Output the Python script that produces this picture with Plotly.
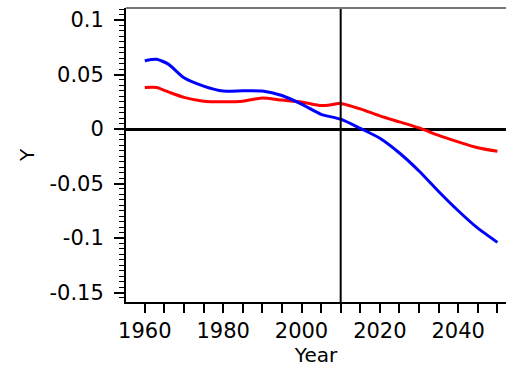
import plotly.graph_objects as go

years_blue = [1960, 1963, 1966, 1970, 1975, 1980, 1985, 1990, 1995, 2000,
              2005, 2010, 2015, 2020, 2025, 2030, 2035, 2040, 2045, 2050]
blue_vals = [0.0627, 0.064, 0.0595, 0.047, 0.0394, 0.0348, 0.035, 0.0348, 0.0307, 0.0228,
             0.0135, 0.009, 0.0006, -0.0085, -0.022, -0.0385, -0.0573, -0.075, -0.091, -0.104]

years_red = [1960, 1963, 1966, 1970, 1975, 1980, 1985, 1990, 1995, 2000,
             2005, 2008, 2010, 2015, 2020, 2025, 2030, 2035, 2040, 2045, 2050]
red_vals = [0.038, 0.038, 0.034, 0.029, 0.0255, 0.025, 0.0255, 0.0285, 0.0265, 0.0248,
            0.0215, 0.0225, 0.0235, 0.0185, 0.012, 0.0065, 0.001, -0.0058, -0.0118, -0.0172, -0.0205]

y_tickvals = [0.1, 0.05, 0, -0.05, -0.1, -0.15]
y_ticktext = ["0.1", "0.05", "0", "-0.05", "-0.1", "-0.15"]
x_tickvals = [1960, 1980, 2000, 2020, 2040]
x_ticktext = ["1960", "1980", "2000", "2020", "2040"]
marker_year = 2010

FONT = "DejaVu Sans"

fig = go.Figure()
fig.add_trace(go.Scatter(x=years_red, y=red_vals, mode="lines",
                         line=dict(color="#ff0000", width=3, shape="spline", smoothing=0.6),
                         showlegend=False))
fig.add_trace(go.Scatter(x=years_blue, y=blue_vals, mode="lines",
                         line=dict(color="#0000ff", width=3, shape="spline", smoothing=0.6),
                         showlegend=False))

fig.add_shape(type="line", xref="x", yref="paper", x0=marker_year, x1=marker_year,
              y0=0, y1=1, line=dict(color="black", width=2), layer="above")
fig.add_shape(type="line", xref="paper", yref="paper", x0=0, x1=1, y0=1, y1=1,
              line=dict(color="#777777", width=2))

fig.update_layout(
    width=506, height=371,
    margin=dict(l=126, r=0, t=8, b=69),
    paper_bgcolor="white", plot_bgcolor="white",
    font=dict(family=FONT, size=20, color="black"),
    xaxis=dict(
        range=[1955.2, 2052.2],
        tickmode="array", tickvals=x_tickvals, ticktext=x_ticktext,
        ticks="outside", ticklen=9, tickwidth=2, tickcolor="black",
        minor=dict(dtick=5, tick0=1960, ticks="outside", ticklen=9, tickwidth=2, tickcolor="black", showgrid=False),
        showline=True, linecolor="black", linewidth=2,
        showgrid=False, zeroline=False,
        tickfont=dict(size=21),
        title=dict(text="Year", standoff=2, font=dict(size=20)),
    ),
    yaxis=dict(
        range=[-0.1587, 0.111],
        tickmode="array", tickvals=y_tickvals, ticktext=y_ticktext,
        ticks="outside", ticklen=10, tickwidth=2, tickcolor="black",
        minor=dict(dtick=0.005, tick0=0, ticks="outside", ticklen=5, tickwidth=1, tickcolor="black", showgrid=False),
        showline=True, linecolor="black", linewidth=2,
        showgrid=False,
        zeroline=True, zerolinecolor="black", zerolinewidth=3,
        tickfont=dict(size=21),
        ticklabelstandoff=6,
        title=dict(text="Y", standoff=9, font=dict(size=20)),
    ),
)

fig.write_html("out.html")
